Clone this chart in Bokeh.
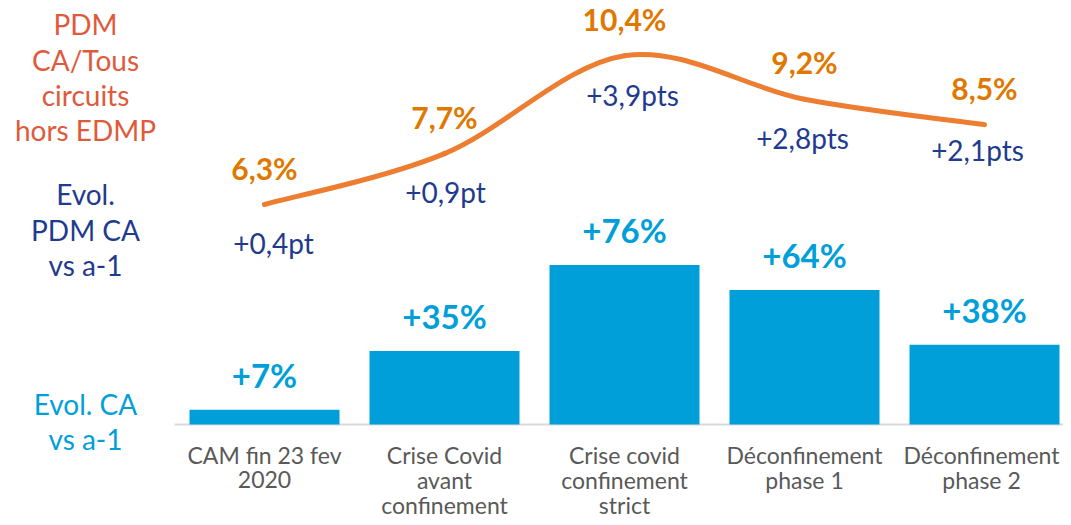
from bokeh.plotting import figure
from bokeh.models import Range1d
from bokeh.core.properties import value
from bokeh.embed import file_html
from bokeh.resources import INLINE

# ---------------- data ----------------
categories = ["CAM fin 23 fev\n2020", "Crise Covid\navant\nconfinement",
              "Crise covid\nconfinement\nstrict", "Déconfinement\nphase 1",
              "Déconfinement\nphase 2"]
ca_evol = [7, 35, 76, 64, 38]                 # Evol. CA vs a-1 (%)
pdm = [6.3, 7.7, 10.4, 9.2, 8.5]              # PDM CA/Tous circuits hors EDMP (%)
pdm_evol = [0.4, 0.9, 3.9, 2.8, 2.1]          # Evol. PDM CA vs a-1 (pts)

left_orange = ["PDM", "CA/Tous", "circuits", "hors EDMP"]
left_navy = ["Evol.", "PDM CA", "vs a-1"]
left_blue = ["Evol. CA", "vs a-1"]

# ---------------- styles ----------------
BAR = "#009FDA"
LINE = "#ED7D31"
ORANGE_LBL = "#E07800"
NAVY = "#1F3B8F"
RED_ORANGE = "#DF5A3B"
GRAY = "#595959"
AXIS = "#D9D9D9"
FONT = value("Lato")

W, H = 1063, 517
X0, STEP = 264, 180          # pixel centre of first category, spacing
BASE, BAR_PX = 424, 2.1      # baseline pixel row, pixels per % (bars)
L_REF, L_PX = 204, 36.3      # pixel row of first PDM point, pixels per % (line)
n = len(categories)
xs = list(range(n))

p = figure(width=W, height=H, output_backend="svg", toolbar_location=None,
           x_range=Range1d(-X0 / STEP, (W - X0) / STEP),
           y_range=Range1d(-(H - BASE) / BAR_PX, BASE / BAR_PX),
           min_border=0, outline_line_color=None, background_fill_color="white",
           border_fill_color="white")
p.extra_y_ranges = {"pdm": Range1d(pdm[0] - (H - L_REF) / L_PX, pdm[0] + L_REF / L_PX)}
p.xaxis.visible = False
p.yaxis.visible = False
p.xgrid.visible = False
p.ygrid.visible = False

# baseline
p.segment(x0=[-0.5], y0=[0], x1=[n], y1=[0], line_color=AXIS, line_width=2)

# bars
p.vbar(x=xs, top=ca_evol, bottom=0, width=150 / 180, fill_color=BAR, line_color=None)
p.text(x=xs, y=ca_evol, text=[f"+{v}%" for v in ca_evol], text_font=FONT,
       text_font_style="bold", text_font_size="33px", text_color=BAR,
       text_align="center", text_baseline="middle", y_offset=-35)

# smoothed PDM line (Catmull-Rom -> cubic Bezier)
def P(i):
    i = min(max(i, 0), n - 1)
    return xs[i], pdm[i]

bx0, by0, bx1, by1, cx0, cy0, cx1, cy1 = ([] for _ in range(8))
for i in range(n - 1):
    a, b, pm, pn = P(i), P(i + 1), P(i - 1), P(i + 2)
    bx0.append(a[0]); by0.append(a[1]); bx1.append(b[0]); by1.append(b[1])
    cx0.append(a[0] + (b[0] - pm[0]) / 6); cy0.append(a[1] + (b[1] - pm[1]) / 6)
    cx1.append(b[0] - (pn[0] - a[0]) / 6); cy1.append(b[1] - (pn[1] - a[1]) / 6)
p.bezier(x0=bx0, y0=by0, x1=bx1, y1=by1, cx0=cx0, cy0=cy0, cx1=cx1, cy1=cy1,
         line_color=LINE, line_width=5, line_cap="round", y_range_name="pdm")

p.text(x=xs, y=pdm, text=[f"{v:.1f}".replace(".", ",") + "%" for v in pdm],
       text_font=FONT, text_font_style="bold", text_font_size="30px",
       text_color=ORANGE_LBL, text_align="center", text_baseline="middle",
       y_offset=-37, y_range_name="pdm")

evol_dy = [38, 38, 39, 39, 25]
evol_dx = [9, 1, 8, -2, -7]
p.text(x=xs, y=pdm,
       text=[f"+{v:.1f}".replace(".", ",") + ("pt" if v < 2 else "pts") for v in pdm_evol],
       text_font=FONT, text_font_size="28px", text_color=NAVY,
       text_align="center", text_baseline="middle",
       y_offset=evol_dy, x_offset=evol_dx, y_range_name="pdm")

# category labels under the baseline
cx, cy, ct, coff, cdx = [], [], [], [], []
for i, c in enumerate(categories):
    for j, line in enumerate(c.split("\n")):
        cx.append(i); cy.append(0); ct.append(line); coff.append(30 + 25 * j)
        cdx.append(-3 if i == n - 1 else 0)
p.text(x=cx, y=cy, text=ct, y_offset=coff, x_offset=cdx, text_font=FONT,
       text_font_size="23px", text_color=GRAY, text_align="center",
       text_baseline="middle")

# left-side series titles
def left_block(lines, rows, color):
    p.text(x=[-1] * len(lines), y=[0] * len(lines), text=lines,
           y_offset=[r - BASE for r in rows], x_offset=1, text_font=FONT,
           text_font_size="28px", text_color=color,
           text_align="center", text_baseline="middle")

left_block(left_orange, [23, 59, 94, 129], RED_ORANGE)
left_block(left_navy, [193, 229, 264], NAVY)
left_block(left_blue, [403, 438], BAR)

open("out.html", "w").write(file_html(p, INLINE))
